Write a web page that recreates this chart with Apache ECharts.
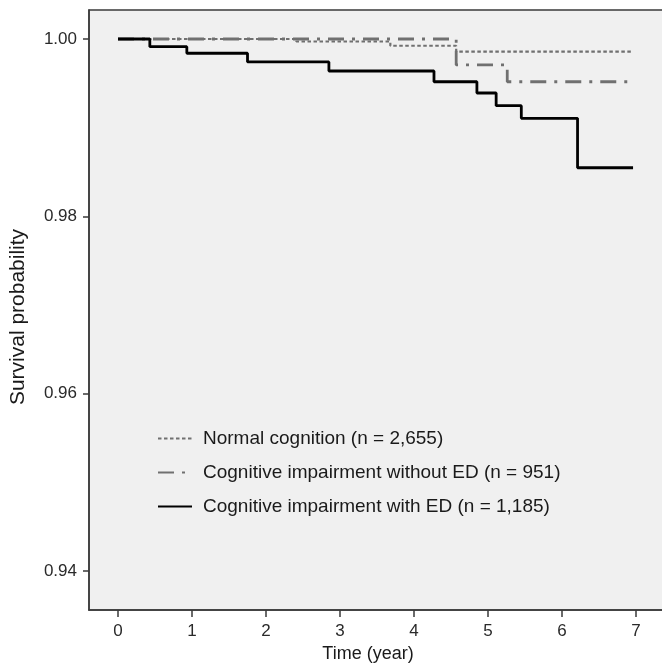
<!DOCTYPE html>
<html>
<head>
<meta charset="utf-8">
<script src="https://cdn.jsdelivr.net/npm/echarts@6/dist/echarts.min.js"></script>
<style>
  html, body { margin: 0; padding: 0; background: #fff; }
  #chart { width: 662px; height: 663px; }
</style>
</head>
<body>
<div id="chart"></div>
<script>
// Kaplan-Meier steps: [time, survival]
const normalCognition = [
  [0, 1.0], [2.41, 0.99972], [3.68, 0.99924], [4.57, 0.99857], [6.96, 0.99857]
]
const impairmentNoED = [
  [0, 1.0], [4.57, 0.99707], [5.26, 0.99518], [6.96, 0.99518]
]
const impairmentED = [
  [0, 1.0], [0.43, 0.99913], [0.93, 0.99839], [1.75, 0.99741], [2.85, 0.99639],
  [4.27, 0.99518], [4.85, 0.99391], [5.11, 0.99248], [5.45, 0.99105],
  [6.21, 0.98548], [6.96, 0.98548]
]
const seriesNames = [
  'Normal cognition (n = 2,655)',
  'Cognitive impairment without ED (n = 951)',
  'Cognitive impairment with ED (n = 1,185)'
]
const xTicks = [0, 1, 2, 3, 4, 5, 6, 7]
const yTicks = [0.94, 0.96, 0.98, 1.0]

const chart = echarts.init(document.getElementById('chart'))
const font = 'Liberation Sans, Arial, sans-serif'
const gray = '#707070'

const option = {
  animation: false,
  textStyle: { fontFamily: font },
  grid: {
    show: true,
    outerBoundsMode: 'none',
    left: 89,
    top: 10,
    width: 590, // right edge runs past the canvas, as in the picture
    height: 600,
    backgroundColor: '#f0f0f0',
    borderColor: '#3a3a3a',
    borderWidth: 1.5,
  },
  legend: {
    orient: 'vertical',
    left: 152,
    top: 424,
    itemWidth: 34,
    itemHeight: 14,
    itemGap: 15,
    data: seriesNames,
    itemStyle: { color: 'transparent', borderColor: 'transparent', borderWidth: 0 },
    textStyle: {
      fontFamily: font,
      fontSize: 19,
      color: '#1a1a1a',
      padding: [0, 0, 0, 6],
    },
  },
  xAxis: {
    type: 'value',
    min: -0.392,
    max: -0.392 + 590 / 74,
    name: 'Time (year)',
    nameLocation: 'middle',
    nameGap: 29,
    nameTextStyle: { fontSize: 18, color: '#1a1a1a', padding: [0, 32, 0, 0] },
    axisLine: { show: true, onZero: false, lineStyle: { color: '#3a3a3a', width: 1.5 } },
    axisTick: { show: true, length: 7, customValues: xTicks, lineStyle: { color: '#3a3a3a', width: 1.5 } },
    axisLabel: { customValues: xTicks, margin: 13, fontSize: 17, color: '#2a2a2a' },
    splitLine: { show: false },
  },
  yAxis: {
    type: 'value',
    min: 0.9356,
    max: 1.00327,
    name: 'Survival probability',
    nameLocation: 'middle',
    nameGap: 60,
    nameTextStyle: { fontSize: 21, color: '#1a1a1a', padding: [0, 14, 0, 0] },
    axisLine: { show: true, onZero: false, lineStyle: { color: '#3a3a3a', width: 1.5 } },
    axisTick: { show: true, length: 6, customValues: yTicks, lineStyle: { color: '#3a3a3a', width: 1.5 } },
    axisLabel: {
      customValues: yTicks,
      margin: 12,
      fontSize: 17,
      color: '#2a2a2a',
      formatter: (v) => v.toFixed(2),
    },
    splitLine: { show: false },
  },
  series: [
    {
      name: seriesNames[0],
      type: 'line',
      step: 'end',
      symbol: 'none',
      z: 3,
      data: normalCognition,
      itemStyle: { color: gray },
      lineStyle: { color: gray, width: 2.2, type: [3.5, 2.5] },
    },
    {
      name: seriesNames[1],
      type: 'line',
      step: 'end',
      symbol: 'none',
      z: 2,
      data: impairmentNoED,
      itemStyle: { color: gray },
      lineStyle: { color: gray, width: 2.8, type: [16, 8, 3, 8] },
    },
    {
      name: seriesNames[2],
      type: 'line',
      step: 'end',
      symbol: 'none',
      z: 4,
      data: impairmentED,
      itemStyle: { color: '#000' },
      lineStyle: { color: '#000', width: 2.8 },
    },
  ],
}
chart.setOption(option)
</script>
</body>
</html>
